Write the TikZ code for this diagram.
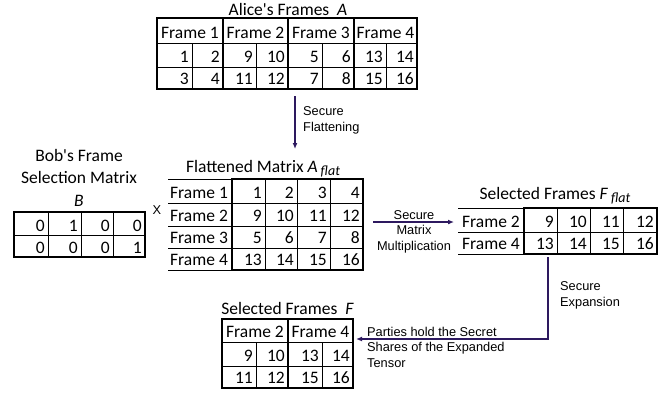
\documentclass[tikz,border=0pt]{standalone}
\usepackage{fontspec}
\setmainfont{Carlito}
\newfontfamily\arialf{Liberation Sans}
\usetikzlibrary{arrows.meta}

\definecolor{flowc}{RGB}{45,25,95}

\tikzset{
  cell/.style={inner sep=0pt, anchor=base east, font=\fontsize{17.5}{20}\selectfont},
  lbl/.style={inner sep=0pt, anchor=base, font=\fontsize{17.5}{20}\selectfont},
  rowlbl/.style={inner sep=0pt, anchor=base west, font=\fontsize{17.5}{20}\selectfont},
  note/.style={inner sep=0pt, anchor=base west, align=left, font=\arialf\fontsize{12.8}{15.2}\selectfont},
  outer/.style={line width=2.4pt},
  inner/.style={line width=0.9pt},
  flow/.style={draw=flowc, line width=1.8pt, -{Latex[length=6pt,width=5pt]}},
}
\newcommand{\flatsub}{\raisebox{-3pt}{\fontsize{14}{14}\selectfont\itshape flat}}

\begin{document}
\begin{tikzpicture}[x=1pt, y=-1pt, line join=miter]
  \useasboundingbox (0,0) rectangle (672,394);
  % table corners
  \coordinate (A0) at (157,18);
  \coordinate (A1) at (417,89);
  \coordinate (B0) at (14,212);
  \coordinate (B1) at (145,257);
  \coordinate (M0) at (232,179);
  \coordinate (M1) at (363,270);
  \coordinate (S0) at (524,208);
  \coordinate (S1) at (657,254);
  \coordinate (F0) at (222,319);
  \coordinate (F1) at (353,388);
  % arrow ends
  \coordinate (flatS) at (295,96);
  \coordinate (flatE) at (295,149);
  \coordinate (mulS) at (373,222);
  \coordinate (mulE) at (454,222);
  \coordinate (expS) at (548,257);
  \coordinate (expE) at (356,339);

  % Alice's frames
  \draw[inner] (157,43) -- (417,43);
  \draw[inner] (157,67) -- (417,67);
  \draw[inner] (192,43) -- (192,89);
  \draw[inner] (256,43) -- (256,89);
  \draw[inner] (322,43) -- (322,89);
  \draw[inner] (386,43) -- (386,89);
  \draw[outer] (223,18) -- (223,89);
  \draw[outer] (288,18) -- (288,89);
  \draw[outer] (354,18) -- (354,89);
  \draw[outer] (A0) rectangle (A1);
  \node[lbl] (aT) at (288,15) {Alice\textquotesingle s Frames\ \ \textit{A}};
  \node[lbl] (aH1) at (190,38) {Frame 1};
  \node[lbl] (aH2) at (255.5,38) {Frame 2};
  \node[lbl] (aH3) at (321,38) {Frame 3};
  \node[lbl] (aH4) at (385.5,38) {Frame 4};
  \node[cell] (a11) at (189,62.5) {1};
  \node[cell] (a12) at (220,62.5) {2};
  \node[cell] (a13) at (253,62.5) {9};
  \node[cell] (a14) at (285,62.5) {10};
  \node[cell] (a15) at (319,62.5) {5};
  \node[cell] (a16) at (351,62.5) {6};
  \node[cell] (a17) at (383,62.5) {13};
  \node[cell] (a18) at (414,62.5) {14};
  \node[cell] (a21) at (189,84.5) {3};
  \node[cell] (a22) at (220,84.5) {4};
  \node[cell] (a23) at (253,84.5) {11};
  \node[cell] (a24) at (285,84.5) {12};
  \node[cell] (a25) at (319,84.5) {7};
  \node[cell] (a26) at (351,84.5) {8};
  \node[cell] (a27) at (383,84.5) {15};
  \node[cell] (a28) at (414,84.5) {16};

  % Bob's selection matrix
  \draw[inner] (14,235) -- (145,235);
  \draw[inner] (48,212) -- (48,257);
  \draw[inner] (81,212) -- (81,257);
  \draw[inner] (113,212) -- (113,257);
  \draw[outer] (B0) rectangle (B1);
  \node[lbl] (bT1) at (79,161) {Bob\textquotesingle s Frame};
  \node[lbl] (bT2) at (79,183) {Selection Matrix};
  \node[lbl] (bT3) at (79,206) {\textit{B}};
  \node[cell] (b11) at (45,231) {0};
  \node[cell] (b12) at (78,231) {1};
  \node[cell] (b13) at (110,231) {0};
  \node[cell] (b14) at (142,231) {0};
  \node[cell] (b21) at (45,253) {0};
  \node[cell] (b22) at (78,253) {0};
  \node[cell] (b23) at (110,253) {0};
  \node[cell] (b24) at (142,253) {1};
  \node[note, anchor=base] (times) at (157,214) {X};

  % flattened matrix
  \draw[inner] (168,179) -- (232,179);
  \draw[inner] (168,203) -- (363,203);
  \draw[inner] (168,226) -- (363,226);
  \draw[inner] (168,248) -- (363,248);
  \draw[inner] (168,270) -- (232,270);
  \draw[inner] (265,179) -- (265,270);
  \draw[inner] (297,179) -- (297,270);
  \draw[inner] (330,179) -- (330,270);
  \draw[outer] (M0) rectangle (M1);
  \node[lbl] (mT) at (263,172) {Flattened Matrix \textit{A}\,\flatsub};
  \node[rowlbl] (mR1) at (170,198.5) {Frame 1};
  \node[rowlbl] (mR2) at (170,221.5) {Frame 2};
  \node[rowlbl] (mR3) at (170,243.5) {Frame 3};
  \node[rowlbl] (mR4) at (170,265.5) {Frame 4};
  \node[cell] (m11) at (262,198.5) {1};
  \node[cell] (m12) at (294,198.5) {2};
  \node[cell] (m13) at (327,198.5) {3};
  \node[cell] (m14) at (360,198.5) {4};
  \node[cell] (m21) at (262,221.5) {9};
  \node[cell] (m22) at (294,221.5) {10};
  \node[cell] (m23) at (327,221.5) {11};
  \node[cell] (m24) at (360,221.5) {12};
  \node[cell] (m31) at (262,243.5) {5};
  \node[cell] (m32) at (294,243.5) {6};
  \node[cell] (m33) at (327,243.5) {7};
  \node[cell] (m34) at (360,243.5) {8};
  \node[cell] (m41) at (262,265.5) {13};
  \node[cell] (m42) at (294,265.5) {14};
  \node[cell] (m43) at (327,265.5) {15};
  \node[cell] (m44) at (360,265.5) {16};

  % selected frames, flat
  \draw[inner] (458,208) -- (524,208);
  \draw[inner] (458,232) -- (657,232);
  \draw[inner] (458,254) -- (524,254);
  \draw[inner] (557,208) -- (557,254);
  \draw[inner] (590,208) -- (590,254);
  \draw[inner] (623,208) -- (623,254);
  \draw[outer] (S0) rectangle (S1);
  \node[lbl] (sT) at (555,199) {Selected Frames \textit{F}\,\flatsub};
  \node[lbl] (sR1) at (491,227.5) {Frame 2};
  \node[lbl] (sR2) at (491,249.5) {Frame 4};
  \node[cell] (s11) at (554,227.5) {9};
  \node[cell] (s12) at (587,227.5) {10};
  \node[cell] (s13) at (620,227.5) {11};
  \node[cell] (s14) at (654,227.5) {12};
  \node[cell] (s21) at (554,249.5) {13};
  \node[cell] (s22) at (587,249.5) {14};
  \node[cell] (s23) at (620,249.5) {15};
  \node[cell] (s24) at (654,249.5) {16};

  % selected frames, expanded
  \draw[inner] (222,342) -- (353,342);
  \draw[inner] (222,366) -- (353,366);
  \draw[inner] (256,342) -- (256,388);
  \draw[inner] (322,342) -- (322,388);
  \draw[outer] (288,319) -- (288,388);
  \draw[outer] (F0) rectangle (F1);
  \node[lbl] (fT) at (287.5,314) {Selected Frames\ \ \textit{F}};
  \node[lbl] (fH1) at (255,337.5) {Frame 2};
  \node[lbl] (fH2) at (320.5,337.5) {Frame 4};
  \node[cell] (f11) at (253,361.5) {9};
  \node[cell] (f12) at (285,361.5) {10};
  \node[cell] (f13) at (319,361.5) {13};
  \node[cell] (f14) at (350,361.5) {14};
  \node[cell] (f21) at (253,383.5) {11};
  \node[cell] (f22) at (285,383.5) {12};
  \node[cell] (f23) at (319,383.5) {15};
  \node[cell] (f24) at (350,383.5) {16};

  % protocol steps
  \draw[flow] (flatS) -- (flatE);
  \node[note] (flatL) at (303,131) {Secure\\Flattening};
  \draw[flow] (mulS) -- (mulE);
  \node[note, align=center, anchor=base] (mulL) at (414,250) {Secure\\Matrix\\Multiplication};
  \draw[flow] (expS) |- (expE);
  \node[note] (expL) at (560,306) {Secure\\Expansion};
  \node[note] (shrL) at (367,367) {Parties hold the Secret\\Shares of the Expanded\\Tensor};
\end{tikzpicture}
\end{document}
